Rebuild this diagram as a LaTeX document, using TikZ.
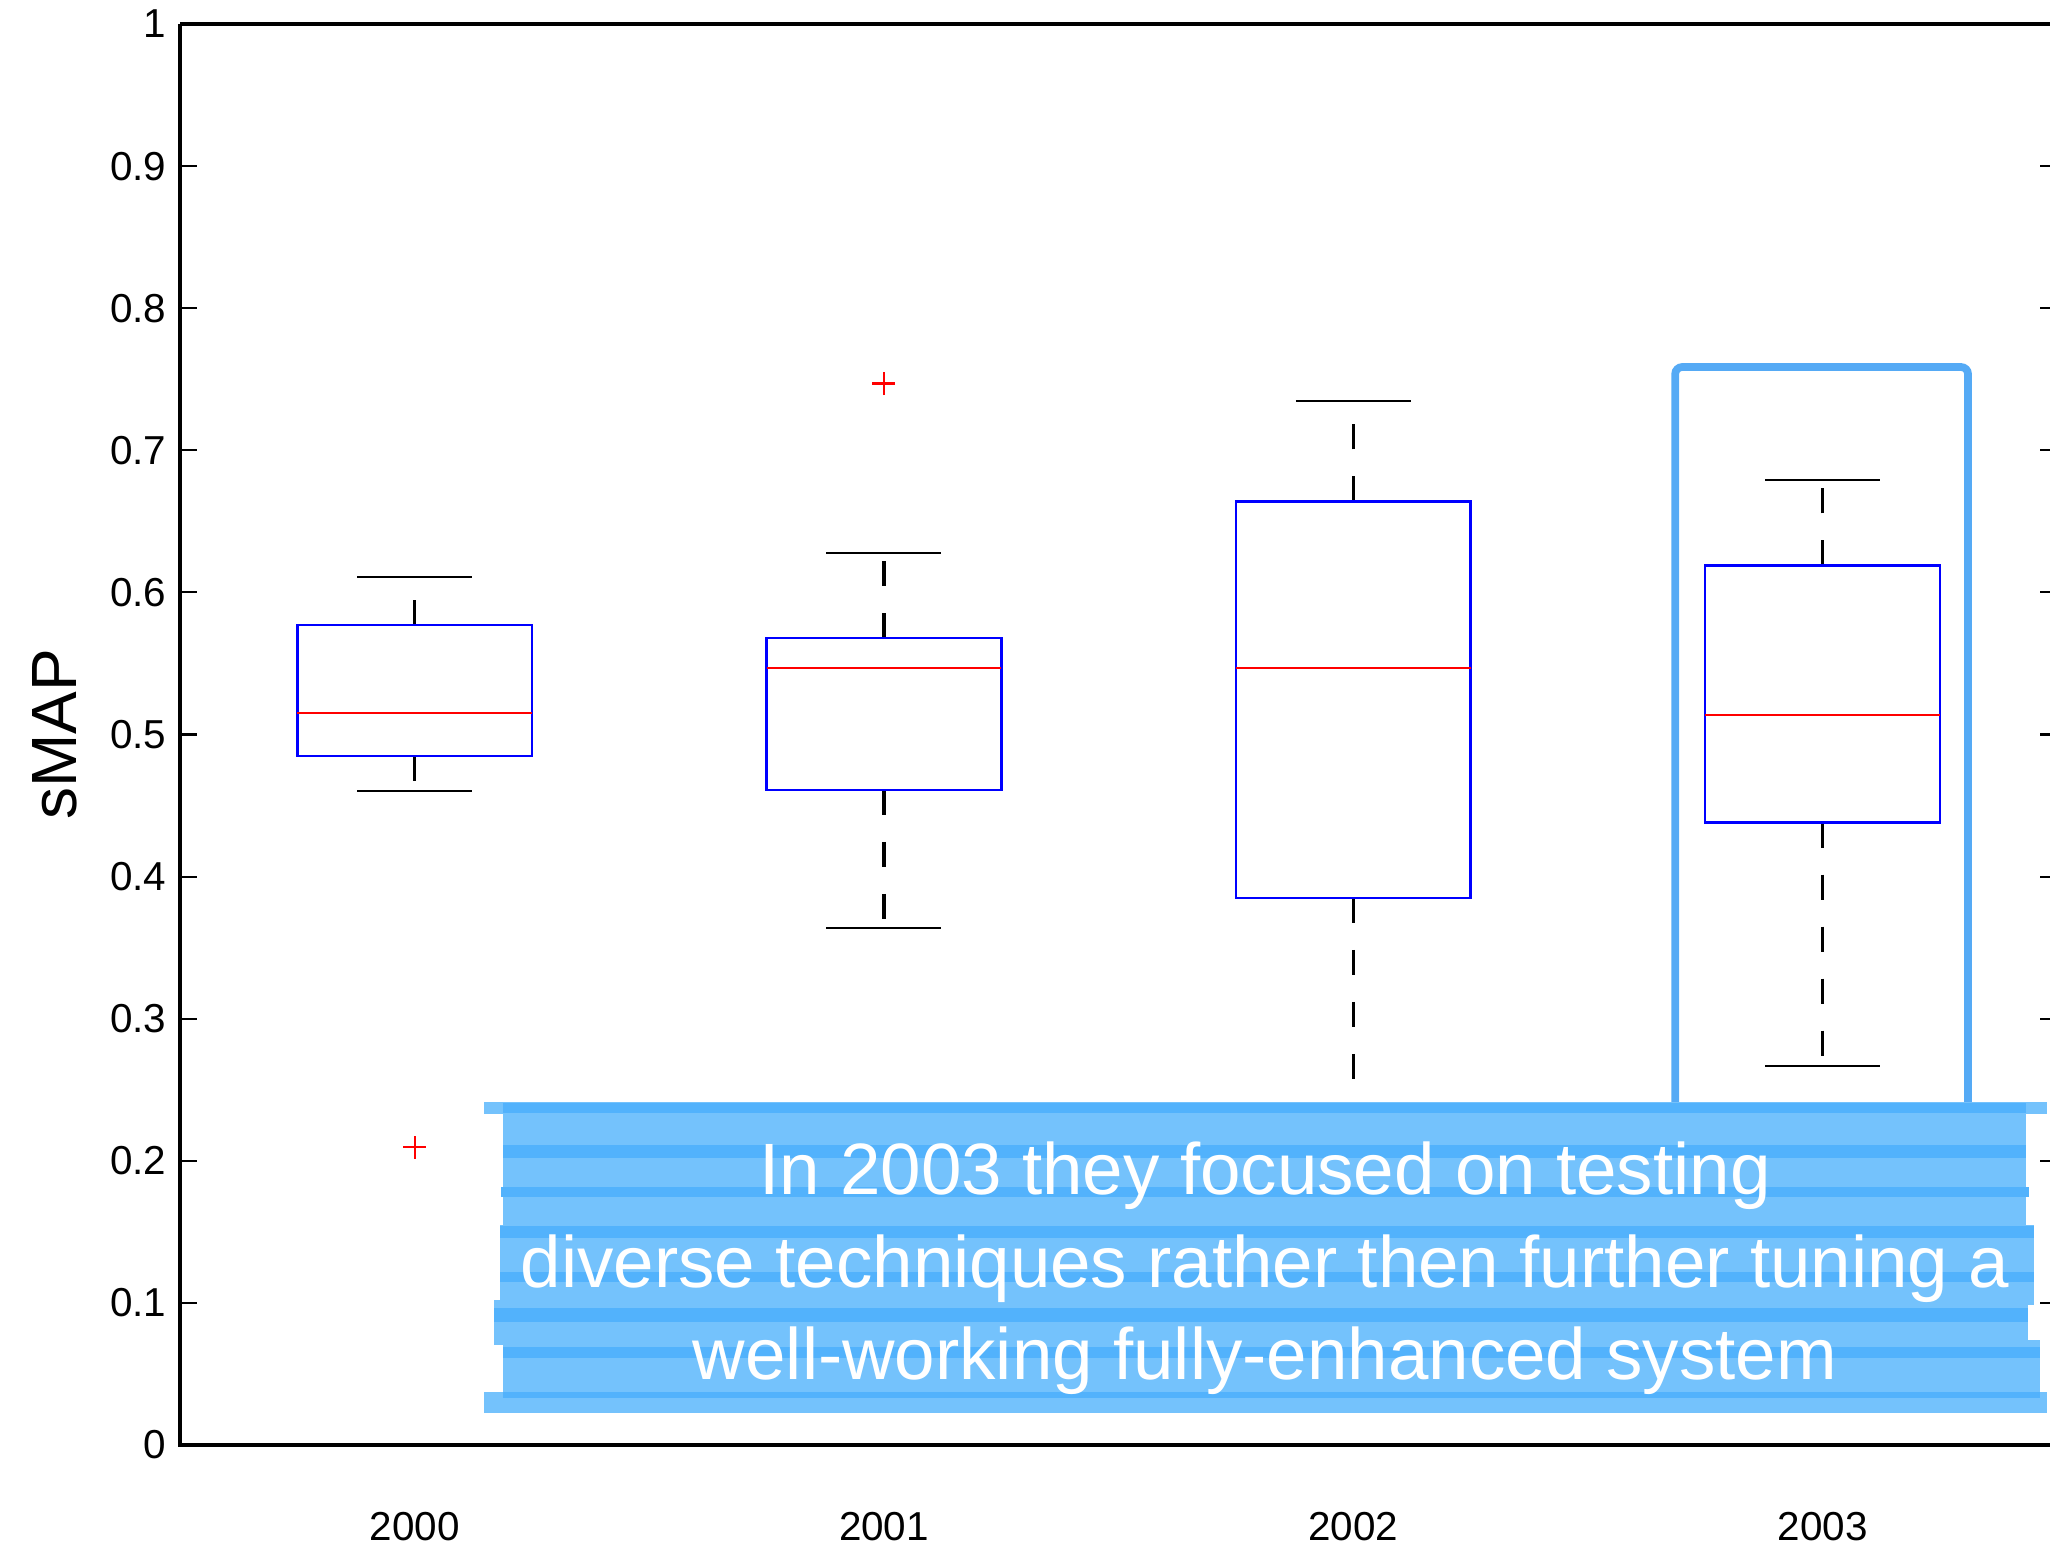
\documentclass[tikz,border=0pt]{standalone}
\usepackage{fontspec}
\setmainfont{Liberation Sans}
\usepackage{tikz}
\usetikzlibrary{positioning}
\definecolor{notelight}{RGB}{116,194,252}
\definecolor{notedark}{RGB}{82,178,252}
\definecolor{markblue}{RGB}{85,170,245}

\begin{document}
\begin{tikzpicture}[
  x=4.693cm, y=14.21cm,
  every node/.style={font=\fontsize{11.5}{13}\selectfont, inner sep=0pt},
  axisline/.style={line width=1pt},
  axtick/.style={line width=0.6pt},
  ticklab/.style={anchor=east, xshift=-0.13cm},
  yearlab/.style={anchor=center},
  iqrbox/.style={draw=blue, line width=0.7pt},
  medline/.style={draw=red, line width=0.6pt},
  whisk/.style={line width=0.9pt, dash pattern=on 0.25cm off 0.27cm},
  wcap/.style={line width=0.6pt},
  outl/.style={draw=red, line width=0.6pt},
  markframe/.style={draw=markblue, line width=2.2pt, rounded corners=2pt, line cap=round},
  notepiece/.style={fill=notelight},
  notestripe/.style={fill=notedark},
  notetext/.style={anchor=base, text=white, font=\fontsize{20.7}{25}\selectfont}
]
\useasboundingbox (-0.3836,-0.0718) rectangle (3.9847,1.0169);
\clip (-0.3836,-0.0718) rectangle (3.9847,1.0169);

\draw[axisline] (0,1) -- (0,0) -- (4,0);
\draw[axisline] (0,1) -- (4,1) -- (4,0);

\draw[axtick] (0,0.1) -- ++(0.17cm,0);
\draw[axtick] (0,0.2) -- ++(0.17cm,0);
\draw[axtick] (0,0.3) -- ++(0.17cm,0);
\draw[axtick] (0,0.4) -- ++(0.17cm,0);
\draw[axtick] (0,0.5) -- ++(0.17cm,0);
\draw[axtick] (0,0.6) -- ++(0.17cm,0);
\draw[axtick] (0,0.7) -- ++(0.17cm,0);
\draw[axtick] (0,0.8) -- ++(0.17cm,0);
\draw[axtick] (0,0.9) -- ++(0.17cm,0);
\draw[axtick] (4,0.1) -- ++(-0.17cm,0);
\draw[axtick] (4,0.2) -- ++(-0.17cm,0);
\draw[axtick] (4,0.3) -- ++(-0.17cm,0);
\draw[axtick] (4,0.4) -- ++(-0.17cm,0);
\draw[axtick] (4,0.5) -- ++(-0.17cm,0);
\draw[axtick] (4,0.6) -- ++(-0.17cm,0);
\draw[axtick] (4,0.7) -- ++(-0.17cm,0);
\draw[axtick] (4,0.8) -- ++(-0.17cm,0);
\draw[axtick] (4,0.9) -- ++(-0.17cm,0);

\node[ticklab] (y0) at (0,0) {0};
\node[ticklab] (y1) at (0,0.1) {0.1};
\node[ticklab] (y2) at (0,0.2) {0.2};
\node[ticklab] (y3) at (0,0.3) {0.3};
\node[ticklab] (y4) at (0,0.4) {0.4};
\node[ticklab] (y5) at (0,0.5) {0.5};
\node[ticklab] (y6) at (0,0.6) {0.6};
\node[ticklab] (y7) at (0,0.7) {0.7};
\node[ticklab] (y8) at (0,0.8) {0.8};
\node[ticklab] (y9) at (0,0.9) {0.9};
\node[ticklab] (y10) at (0,1) {1};

\node[yearlab] (yr2000) at (0.5,-0.0577) {2000};
\node[yearlab] (yr2001) at (1.5,-0.0577) {2001};
\node[yearlab] (yr2002) at (2.5,-0.0577) {2002};
\node[yearlab] (yr2003) at (3.5,-0.0577) {2003};

\node[rotate=90, font=\fontsize{18.2}{20}\selectfont] (ylab) at (-0.266,0.5) {sMAP};

% 2000
\draw[whisk] (0.5,0.577) -- (0.5,0.611);
\draw[whisk] (0.5,0.485) -- (0.5,0.46);
\draw[wcap] (0.3775,0.611) -- (0.6225,0.611);
\draw[wcap] (0.3775,0.46) -- (0.6225,0.46);
\draw[iqrbox] (0.25,0.485) rectangle (0.75,0.577);
\draw[medline] (0.25,0.515) -- (0.75,0.515);
\coordinate (out2000) at (0.5,0.2097);
\draw[outl] (out2000) +(-0.115cm,0) -- +(0.115cm,0) (out2000) +(0,-0.115cm) -- +(0,0.115cm);

% 2001
\draw[whisk] (1.5,0.568) -- (1.5,0.628);
\draw[whisk] (1.5,0.461) -- (1.5,0.364);
\draw[wcap] (1.3775,0.628) -- (1.6225,0.628);
\draw[wcap] (1.3775,0.364) -- (1.6225,0.364);
\draw[iqrbox] (1.25,0.461) rectangle (1.75,0.568);
\draw[medline] (1.25,0.547) -- (1.75,0.547);
\coordinate (out2001) at (1.5,0.747);
\draw[outl] (out2001) +(-0.115cm,0) -- +(0.115cm,0) (out2001) +(0,-0.115cm) -- +(0,0.115cm);

% 2002
\draw[whisk] (2.5,0.664) -- (2.5,0.735);
\draw[whisk] (2.5,0.385) -- (2.5,0.2407);
\draw[wcap] (2.3775,0.735) -- (2.6225,0.735);
\draw[iqrbox] (2.25,0.385) rectangle (2.75,0.664);
\draw[medline] (2.25,0.547) -- (2.75,0.547);

% 2003
\draw[whisk] (3.5,0.619) -- (3.5,0.679);
\draw[whisk] (3.5,0.438) -- (3.5,0.267);
\draw[wcap] (3.3775,0.679) -- (3.6225,0.679);
\draw[wcap] (3.3775,0.267) -- (3.6225,0.267);
\draw[iqrbox] (3.25,0.438) rectangle (3.75,0.619);
\draw[medline] (3.25,0.514) -- (3.75,0.514);

\draw[markframe] (3.186,0.2407) -- (3.186,0.7586) -- (3.810,0.7586) -- (3.810,0.2407);

\fill[notepiece] (0.648,0.2329) rectangle (3.978,0.2414);
\fill[notepiece] (0.688,0.1513) rectangle (3.934,0.2357);
\fill[notepiece] (0.682,0.0985) rectangle (3.951,0.1548);
\fill[notepiece] (0.669,0.0704) rectangle (3.938,0.1020);
\fill[notepiece] (0.688,0.0317) rectangle (3.963,0.0739);
\fill[notepiece] (0.648,0.0225) rectangle (3.978,0.0373);
\fill[notestripe] (0.688,0.2336) rectangle (3.934,0.2407);
\fill[notestripe] (0.688,0.2020) rectangle (3.934,0.2111);
\fill[notestripe] (0.685,0.1745) rectangle (3.940,0.1816);
\fill[notestripe] (0.682,0.1457) rectangle (3.951,0.1541);
\fill[notestripe] (0.682,0.1147) rectangle (3.951,0.1217);
\fill[notestripe] (0.669,0.0866) rectangle (3.938,0.0964);
\fill[notestripe] (0.688,0.0612) rectangle (3.963,0.0690);
\fill[notestripe] (0.688,0.0331) rectangle (3.963,0.0373);

\node[notetext] (note1) at (2.312,0.1766) {In 2003 they focused on testing};
\node[notetext] (note2) at (2.312,0.1105) {diverse techniques rather then further tuning a};
\node[notetext] (note3) at (2.312,0.0464) {well-working fully-enhanced system};
\end{tikzpicture}
\end{document}
